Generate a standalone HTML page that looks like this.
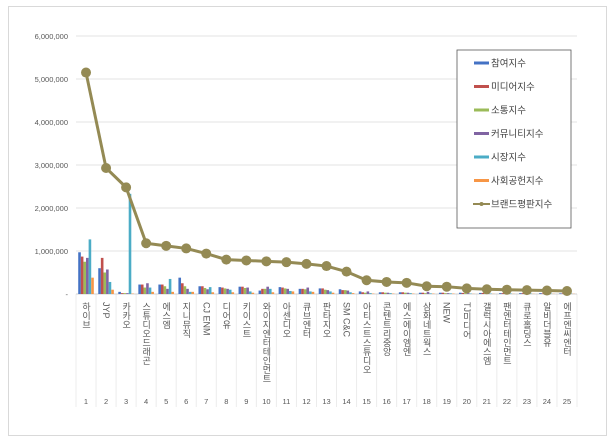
<!DOCTYPE html>
<html><head><meta charset="utf-8"><style>
body{margin:0;background:#fff;font-family:"Liberation Sans","Noto Sans CJK KR",sans-serif}
#wrap{position:relative;width:615px;height:441px;overflow:hidden}
</style></head><body>
<div id="wrap">
<svg id="chart" width="615" height="441"></svg>
</div>
<script>
const categories=["하이브","JYP","카카오","스튜디오드래곤","에스엠","지니뮤직","CJ ENM","디어유","키이스트","와이지엔터테인먼트","아센디오","큐브엔터","판타지오","SM C&C","아티스트스튜디오","콘텐트리중앙","에스에이엠엔","삼화네트웍스","NEW","TJ미디어","갤럭시아에스엠","팬엔터테인먼트","큐로홀딩스","알비더블유","에프엔씨엔터"];
const seriesNames=["참여지수","미디어지수","소통지수","커뮤니티지수","시장지수","사회공헌지수"];
const participation=[970000,600000,50000,220000,220000,380000,180000,160000,170000,80000,160000,120000,130000,110000,60000,40000,40000,30000,30000,30000,25000,20000,20000,20000,15000];
const media=[870000,840000,20000,220000,220000,250000,180000,150000,170000,120000,150000,120000,130000,90000,40000,40000,40000,30000,30000,25000,25000,20000,20000,15000,15000];
const communication=[750000,500000,20000,150000,180000,180000,140000,130000,140000,120000,130000,110000,100000,90000,30000,30000,30000,20000,20000,20000,15000,15000,15000,15000,10000];
const community=[840000,570000,20000,250000,120000,120000,110000,120000,150000,170000,120000,150000,90000,80000,60000,30000,30000,50000,20000,20000,20000,15000,15000,15000,10000];
const market=[1270000,280000,2330000,150000,350000,50000,160000,100000,60000,120000,70000,60000,60000,40000,20000,20000,20000,15000,15000,10000,10000,10000,10000,10000,10000];
const social=[380000,100000,10000,50000,50000,50000,40000,40000,30000,40000,60000,50000,30000,20000,10000,10000,10000,10000,10000,5000,5000,5000,5000,5000,5000];
const brand=[5150000,2930000,2480000,1180000,1120000,1060000,940000,800000,780000,760000,740000,700000,650000,520000,320000,280000,260000,180000,170000,130000,110000,100000,90000,80000,70000];
const yTicks=[0,1000000,2000000,3000000,4000000,5000000,6000000];
const yTickLabels=["-","1,000,000","2,000,000","3,000,000","4,000,000","5,000,000","6,000,000"];
const colors=["#4472c4","#c0504d","#9bbb59","#8064a2","#4bacc6","#f79646"];
const lineColor="#948a54";
const NS="http://www.w3.org/2000/svg";
const svg=document.getElementById('chart');
const X0=76,X1=577,Y0=294,Y6=36;
const n=categories.length, cw=(X1-X0)/n;
function y(v){return Y0-(v/6000000)*(Y0-Y6);}
function xc(i){return X0+cw*(i+0.5);}
function mk(tag,attrs,text){const e=document.createElementNS(NS,tag);for(const k in attrs)e.setAttribute(k,attrs[k]);if(text!==undefined)e.textContent=text;svg.appendChild(e);return e;}
let e=mk('rect',{x:8.5,y:6.5,width:598,height:429,fill:'#fff',stroke:'#d9d9d9'});


yTicks.forEach((t,i)=>{
 if(i>0){const g=mk('line',{x1:X0,x2:X1,y1:y(t),y2:y(t),stroke:'#e3e3e3'});
 
 }
 const l=mk('text',{x:68,y:y(t)+3,'text-anchor':'end','font-size':'7.5',fill:'#595959'},yTickLabels[i]);
 
 
});
for(let i=0;i<=n;i++){
 const s=mk('line',{x1:X0+cw*i,x2:X0+cw*i,y1:Y0,y2:407,stroke:'#ececec'});
 
 
}
const ax=mk('line',{x1:X0,x2:X1,y1:Y0,y2:Y0,stroke:'#d0d0d0'});


const series=[participation,media,communication,community,market,social];
const bw=2.6;
categories.forEach((c,i)=>{
 series.forEach((arr,s)=>{
  const bx=xc(i)-3*bw+s*bw;
  const r=mk('rect',{x:bx,y:y(arr[i]),width:bw,height:Y0-y(arr[i]),fill:colors[s]});
  
  
 });
 const t=mk('text',{x:xc(i),y:302,'font-size':'9',fill:'#595959',style:'writing-mode:vertical-rl;text-orientation:mixed'},c);
 
 
 const nl=mk('text',{x:xc(i),y:404,'text-anchor':'middle','font-size':'7.5',fill:'#595959'},String(i+1));
 
 
});
const pts=brand.map((v,i)=>xc(i)+','+y(v)).join(' ');
const pl=mk('polyline',{points:pts,fill:'none',stroke:lineColor,'stroke-width':3});


brand.forEach((v,i)=>{
 const d=mk('circle',{cx:xc(i),cy:y(v),r:5,fill:lineColor});
 
 
});
const lg=mk('rect',{x:457,y:50,width:114,height:178,fill:'#fff',stroke:'#595959','stroke-width':0.8});


const names=seriesNames.concat(["브랜드평판지수"]);
names.forEach((nm,k)=>{
 const ly=63+k*23.5;
 if(k<6){const sw=mk('rect',{x:474,y:ly-1.5,width:15,height:3,fill:colors[k]});
  
  }
 else{const ll=mk('line',{x1:473,x2:490,y1:ly,y2:ly,stroke:lineColor,'stroke-width':2});
  
  
  const lc=mk('circle',{cx:481.5,cy:ly,r:2,fill:lineColor});
  
  }
 const lt=mk('text',{x:491,y:ly+3.5,'font-size':'9.5',fill:'#404040'},nm);
 
 
});
</script>
</body></html>
